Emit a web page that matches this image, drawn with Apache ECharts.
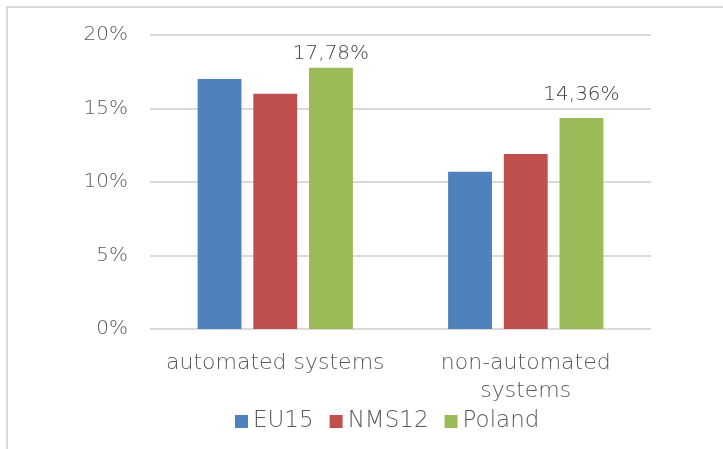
<!DOCTYPE html>
<html>
<head>
<meta charset="utf-8">
<script src="https://cdn.jsdelivr.net/npm/echarts@6/dist/echarts.min.js"></script>
<style>
  body { margin: 0; background: #fff; }
  #frame { position: absolute; left: 6px; top: 6px; width: 717px; height: 443px;
           border-top: 2px solid #d9d9d9; border-left: 2px solid #d9d9d9; box-sizing: border-box; }
  #chart { position: absolute; left: 0; top: 0; width: 723px; height: 449px; }
</style>
</head>
<body>
<div id="frame"></div>
<div id="chart"></div>
<script>
// categories and series
const categories = ['automated systems', 'non-automated\nsystems'];
const seriesNames = ['EU15', 'NMS12', 'Poland'];
const eu15 = [17.0, 10.7];
const nms12 = [16.0, 11.9];
const poland = [17.78, 14.36];
const colors = ['#4f81bd', '#c0504d', '#9bbb59'];

const font = 'DejaVu Sans';
const textColor = '#595959';
const weight = 200;

const chart = echarts.init(document.getElementById('chart'));

chart.setOption({
  animation: false,
  textStyle: { fontFamily: font },
  grid: { left: 150, right: 72, top: 35, bottom: 120 },
  legend: {
    data: seriesNames,
    bottom: 11,
    left: 230,
    itemWidth: 13,
    itemHeight: 13,
    itemGap: 16,
    icon: 'rect',
    textStyle: { color: textColor, fontSize: 23, fontFamily: font, fontWeight: weight }
  },
  xAxis: {
    type: 'category',
    data: categories,
    axisLine: { show: false },
    axisTick: { show: false },
    axisLabel: { interval: 0, color: textColor, fontSize: 22, lineHeight: 28, margin: 20, fontFamily: font, fontWeight: weight }
  },
  yAxis: {
    type: 'value',
    min: 0,
    max: 20,
    interval: 5,
    axisLine: { show: false },
    axisTick: { show: false },
    axisLabel: { color: textColor, fontSize: 20, margin: 22, formatter: '{value}%', fontFamily: font, fontWeight: weight },
    splitLine: { lineStyle: { color: '#d9d9d9', width: 2 } }
  },
  series: [
    { name: 'EU15', type: 'bar', data: eu15, itemStyle: { color: colors[0] },
      barGap: '27%', barCategoryGap: '38%' },
    { name: 'NMS12', type: 'bar', data: nms12, itemStyle: { color: colors[1] } },
    {
      name: 'Poland', type: 'bar', itemStyle: { color: colors[2] },
      data: poland.map((v, i) => ({
        value: v,
        label: { distance: i === 0 ? 4 : 13 }
      })),
      label: {
        show: true,
        position: 'top',
        color: '#404040',
        fontSize: 20,
        fontFamily: font,
        fontWeight: weight,
        formatter: p => p.value.toFixed(2).replace('.', ',') + '%'
      }
    }
  ]
});
</script>
</body>
</html>
